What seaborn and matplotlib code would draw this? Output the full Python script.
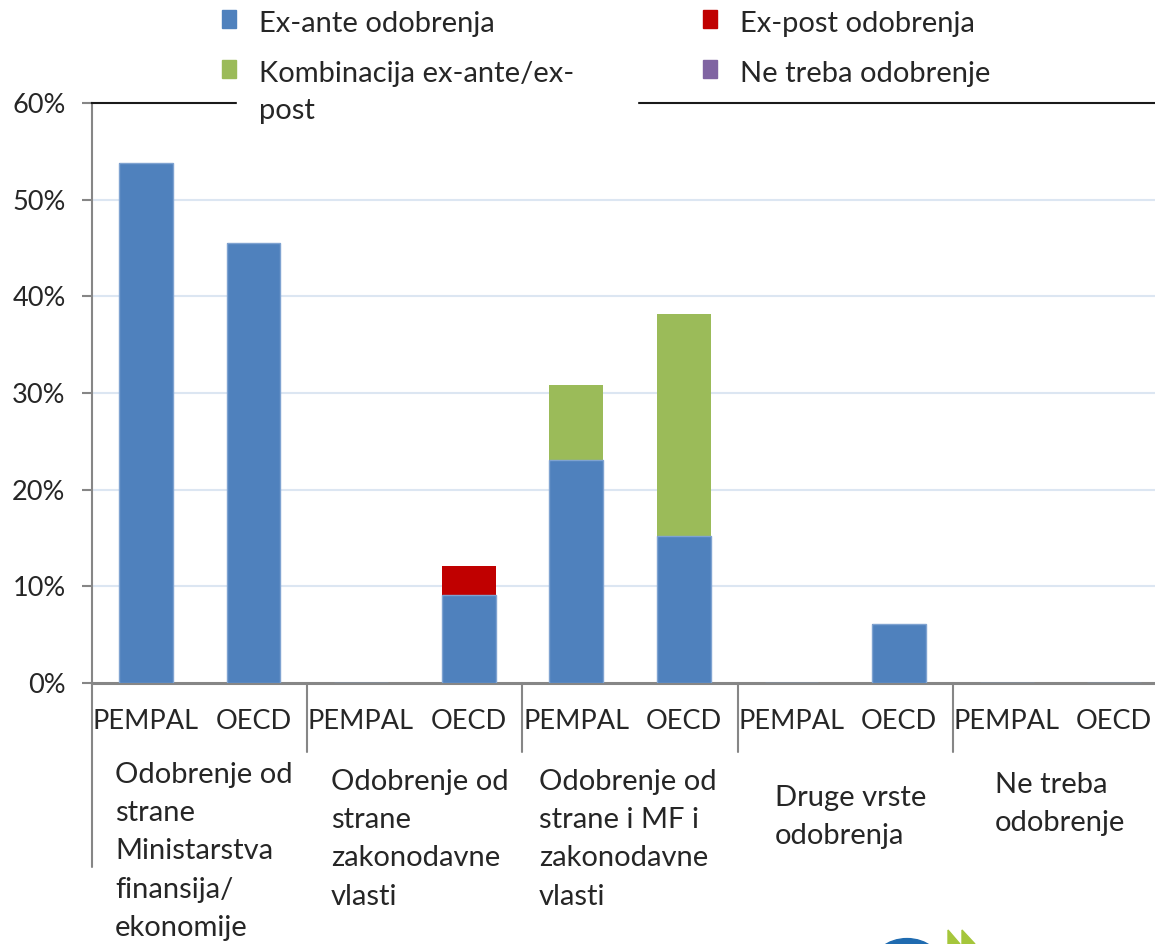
import numpy as np
import pandas as pd
import matplotlib
matplotlib.use("Agg")
import matplotlib.pyplot as plt
from matplotlib.patches import Rectangle, Circle, Polygon
import matplotlib.transforms as mtransforms
import seaborn as sns

# Data (percent of respondents)
groups = ["Odobrenje od\nstrane\nMinistarstva\nfinansija/\nekonomije",
          "Odobrenje od\nstrane\nzakonodavne\nvlasti",
          "Odobrenje od\nstrane i MF i\nzakonodavne\nvlasti",
          "Druge vrste\nodobrenja",
          "Ne treba\nodobrenje"]
regions = ["PEMPAL", "OECD"]
ex_ante = [53.8, 45.5, 0.0, 9.1, 23.1, 15.2, 0.0, 6.1, 0.0, 0.0]
ex_post = [0.0, 0.0, 0.0, 3.0, 0.0, 0.0, 0.0, 0.0, 0.0, 0.0]
kombinacija = [0.0, 0.0, 0.0, 0.0, 7.7, 23.0, 0.0, 0.0, 0.0, 0.0]
ne_treba = [0.0, 0.0, 0.0, 0.0, 0.0, 0.0, 0.0, 0.0, 0.0, 0.0]

series_names = ["Ex-ante odobrenja", "Ex-post odobrenja",
                "Kombinacija ex-ante/ex-\npost", "Ne treba odobrenje"]
colors = {"Ex-ante odobrenja": "#4F81BD", "Ex-post odobrenja": "#C00000",
          "Kombinacija ex-ante/ex-\npost": "#9BBB59", "Ne treba odobrenje": "#8064A2"}

sns.set_style("white")
plt.rcParams["font.family"] = ["Lato", "DejaVu Sans"]
FS = 21
TICK_FS = 19.5

slots = [f"{g}_{r}" for g in range(len(groups)) for r in regions]
df = pd.DataFrame({"slot": slots,
                   "ex_ante": ex_ante, "ex_post": ex_post,
                   "komb": kombinacija, "ne": ne_treba})
# cumulative tops, drawn from the top layer down so lower layers overlay
df["c1"] = df["ex_ante"]
df["c2"] = df["c1"] + df["ex_post"]
df["c3"] = df["c2"] + df["komb"]
df["c4"] = df["c3"] + df["ne"]

fig = plt.figure(figsize=(11.55, 9.44), dpi=100)
W, H = 1155, 944
ax = fig.add_axes([92 / W, 1 - 683 / H, 1076 / W, 580 / H])

layers = [("c4", "Ne treba odobrenje"), ("c3", "Kombinacija ex-ante/ex-\npost"),
          ("c2", "Ex-post odobrenja"), ("c1", "Ex-ante odobrenja")]
for col, name in layers:
    sns.barplot(data=df, x="slot", y=col, order=slots, color=colors[name],
                width=0.5, saturation=1, edgecolor="#7FA3D1" if col == "c1" else "none",
                linewidth=1, ax=ax, zorder=3)

ax.set_xlim(-0.5, len(slots) - 0.5)
ax.set_ylim(0, 60)
ax.set_yticks(np.arange(0, 61, 10))
ax.set_yticklabels([f"{v}%" for v in range(0, 61, 10)], fontsize=TICK_FS)
ax.set_xticks(range(len(slots)))
ax.set_xticklabels(regions * len(groups), fontsize=TICK_FS)
ax.set_xlabel("")
ax.set_ylabel("")
for v in range(10, 60, 10):
    ax.axhline(v, color="#DCE6F2", lw=1.5, zorder=1)

ax.tick_params(axis="y", length=7, width=1.5, color="#868686", pad=12, left=True)
ax.tick_params(axis="x", length=0, pad=19)
for s in ["left", "bottom"]:
    ax.spines[s].set_color("#868686")
ax.spines["left"].set_linewidth(1.5)
ax.spines["bottom"].set_linewidth(2.2)
ax.spines["top"].set_color("#1a1a1a")
ax.spines["top"].set_linewidth(1.5)
ax.spines["right"].set_visible(False)

# group separators under the category axis
trans = mtransforms.blended_transform_factory(ax.transData, ax.transAxes)
for i in range(1, len(groups)):
    ax.plot([2 * i - 0.5] * 2, [0, -69 / 580], color="#868686", lw=1.5,
            transform=trans, clip_on=False)
ax.plot([-0.5] * 2, [0, -184 / 580], color="#868686", lw=1.5,
        transform=trans, clip_on=False)

# group labels
label_pos = [(115, 762), (331, 769), (539, 769), (775, 785), (995, 772)]
for text, (x, y) in zip(groups, label_pos):
    fig.text(x / W, 1 - y / H, text, fontsize=FS, ha="left", va="top",
             linespacing=1.58)

# legend
leg_pos = [(222, 22), (703, 22), (222, 72), (703, 72)]
for name, (x, y) in zip(series_names, leg_pos):
    fig.patches.append(Rectangle((x / W, 1 - (y + 6) / H), 14 / W, 18 / H,
                                 transform=fig.transFigure, color=colors[name]))
    fig.text((x + 37) / W, 1 - (y - 11) / H, name, fontsize=FS, ha="left",
             va="top", linespacing=1.52, zorder=10)
# white legend box hiding part of the top border
fig.patches.append(Rectangle((237 / W, 1 - 112 / H), 400 / W, 17 / H,
                             transform=fig.transFigure, color="white", zorder=5))

# partial logo at bottom right
fig.patches.append(Circle((907 / W, 1 - 968 / H), 36 / W, transform=fig.transFigure,
                          color="#1F6BB0", zorder=6))
fig.patches.append(Polygon([(948 / W, 1 - 930 / H), (960 / W, 1 - 944 / H),
                            (948 / W, 1 - 944 / H)], transform=fig.transFigure,
                           color="#A5C63B", zorder=6))
fig.patches.append(Polygon([(962 / W, 1 - 930 / H), (975 / W, 1 - 944 / H),
                            (962 / W, 1 - 944 / H)], transform=fig.transFigure,
                           color="#A5C63B", zorder=6))

fig.savefig("out.png", dpi=100)
